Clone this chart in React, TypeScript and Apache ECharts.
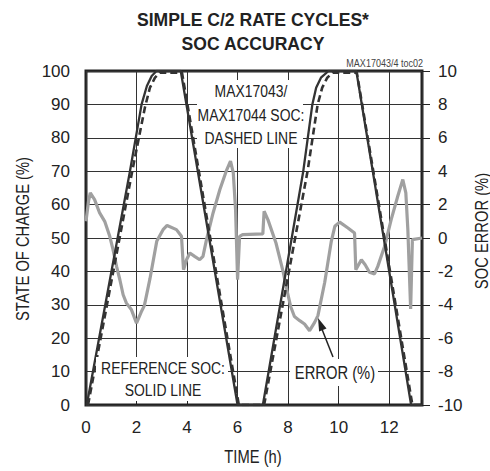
import React, { useEffect, useRef } from "react";
import * as echarts from "echarts";

// ---- data ----
const timeTickLabels = ["0", "2", "4", "6", "8", "10", "12"];

// Reference SOC (%), solid line: [time h, SOC %]
const refSoc: [number, number][] = [
  [0.03, 0], [1.74, 70], [2.2, 90], [2.41, 95.5], [2.6, 98.5], [2.79, 100],
  [3.75, 100], [6.0, 0], [7.0, 0], [8.6, 70], [8.96, 90], [9.11, 95],
  [9.3, 98], [9.6, 100], [10.7, 100], [12.87, 0], [13.3, 0],
];

// MAX17043/MAX17044 SOC (%), dashed line
const maxSoc: [number, number][] = [
  [0.08, 0], [1.83, 70], [2.33, 89], [2.53, 95], [2.73, 98], [2.92, 99.5],
  [3.8, 99.5], [6.05, 0], [7.05, 0], [8.77, 70], [9.17, 90], [9.35, 95],
  [9.55, 98], [9.76, 99.5], [10.72, 99.5], [12.92, 0], [13.3, 0],
];

// SOC error (%), grey line
const socError: [number, number][] = [
  [0.0, 1.0], [0.1, 2.2], [0.17, 2.7], [0.34, 2.3], [0.54, 1.5], [0.74, 1.0],
  [0.94, 0.1], [1.07, -0.7], [1.21, -1.7], [1.34, -2.5], [1.47, -3.4], [1.6, -3.9],
  [1.8, -4.3], [2.0, -5.1], [2.18, -4.45], [2.31, -4.05], [2.53, -2.45], [2.8, -0.2],
  [3.05, 0.5], [3.21, 0.75], [3.58, 0.5], [3.78, 0.1], [3.86, -1.9], [3.98, -1.3],
  [4.11, -0.9], [4.3, -1.1], [4.5, -1.3], [4.63, -1.1], [4.77, -0.1], [5.03, 1.5],
  [5.3, 2.9], [5.55, 4.0], [5.72, 4.6], [5.83, 3.9], [5.92, 1.7], [6.0, -2.5],
  [6.08, 0.1], [6.2, 0.2], [7.0, 0.25], [7.05, 1.6], [7.2, 1.1], [7.52, -0.3],
  [7.8, -2.0], [7.95, -3.1], [8.1, -4.1], [8.25, -4.7], [8.46, -4.95], [8.65, -5.15],
  [8.85, -5.55], [9.05, -5.05], [9.18, -4.65], [9.45, -2.65], [9.71, -0.2], [9.85, 0.7],
  [10.04, 0.95], [10.37, 0.6], [10.63, 0.3], [10.68, -1.9], [10.9, -1.3], [11.05, -1.6],
  [11.22, -2.05], [11.42, -2.15], [11.55, -1.7], [11.82, -0.5], [12.08, 1.1], [12.34, 2.5],
  [12.54, 3.5], [12.66, 2.7], [12.74, 0.5], [12.85, -4.25], [12.92, -0.1], [13.3, 0.0],
];

const FONT = "'Liberation Sans', Arial, sans-serif";
const INK = "#222";
const NARROW_SCALE = 0.82; // emulate the condensed face of the original

export default function App() {
  const ref = useRef<HTMLDivElement>(null);

  useEffect(() => {
    const chart = echarts.init(ref.current!, undefined, { renderer: "svg" });

    const label = (text: string, x: number, y: number, size: number, extra: any = {}) => ({
      type: "text",
      x,
      y,
      z: 110,
      scaleX: NARROW_SCALE,
      ...extra,
      style: {
        text,
        fill: INK,
        fontFamily: FONT,
        fontSize: size,
        align: "center",
        verticalAlign: "middle",
        ...(extra.style || {}),
      },
    });

    chart.setOption({
      animation: false,
      backgroundColor: "#fff",
      grid: {
        left: 86,
        right: 68,
        top: 71,
        bottom: 66,
        show: true,
        borderColor: INK,
        borderWidth: 3,
        backgroundColor: "transparent",
      },
      xAxis: {
        type: "value",
        min: 0,
        max: 13.3,
        interval: 2,
        axisLine: { show: false },
        axisTick: { show: true, inside: true, length: 5, lineStyle: { color: INK } },
        axisLabel: {
          showMaxLabel: false,
          color: INK,
          fontFamily: FONT,
          fontSize: 17,
          margin: 14,
          formatter: (v: number) => {
            const i = Math.round(v / 2);
            return Math.abs(v - i * 2) < 1e-6 && timeTickLabels[i] !== undefined ? timeTickLabels[i] : "";
          },
        },
        splitLine: { show: true, lineStyle: { color: "#333", width: 1 } },
      },
      yAxis: [
        {
          type: "value",
          min: 0,
          max: 100,
          interval: 10,
          axisLine: { show: false },
          axisTick: { show: false },
          axisLabel: { color: INK, fontFamily: FONT, fontSize: 17, margin: 16 },
          splitLine: { show: true, lineStyle: { color: "#333", width: 1 } },
        },
        {
          type: "value",
          min: -10,
          max: 10,
          interval: 2,
          position: "right",
          axisLine: { show: false },
          axisTick: { show: true, inside: false, length: 8, lineStyle: { color: INK } },
          axisLabel: { color: INK, fontFamily: FONT, fontSize: 17, margin: 16 },
          splitLine: { show: false },
        },
      ],
      series: [
        {
          name: "SOC ERROR",
          type: "line",
          yAxisIndex: 1,
          data: socError,
          showSymbol: false,
          symbol: "none",
          lineStyle: { color: "#a0a0a0", width: 3.2 },
          z: 2,
        },
        {
          name: "REFERENCE SOC",
          type: "line",
          yAxisIndex: 0,
          data: refSoc,
          symbol: "none",
          lineStyle: { color: "#333", width: 2.3 },
          z: 3,
        },
        {
          name: "MAX17043/MAX17044 SOC",
          type: "line",
          yAxisIndex: 0,
          data: maxSoc,
          symbol: "none",
          lineStyle: { color: "#333", width: 2.6, type: [7, 4] },
          z: 4,
        },
      ],
      graphic: [
        // title
        {
          type: "text",
          x: 253,
          y: 32,
          z: 110,
          scaleX: 0.95,
          style: {
            text: "SIMPLE C/2 RATE CYCLES*\nSOC ACCURACY",
            fill: INK,
            fontFamily: FONT,
            fontWeight: "bold",
            fontSize: 18.5,
            lineHeight: 24,
            align: "center",
            verticalAlign: "middle",
          },
        },
        // figure code
        label("MAX17043/4 toc02", 423, 63, 11, { style: { align: "right", fill: "#444" } }),
        // axis names
        label("STATE OF CHARGE (%)", 22, 239, 18, { rotation: Math.PI / 2 }),
        label("SOC ERROR (%)", 481, 231, 18, { rotation: Math.PI / 2 }),
        label("TIME (h)", 253, 456, 18),
        // annotation boxes
        { type: "rect", z: 105, shape: { x: 197, y: 80, width: 106, height: 68 }, style: { fill: "#fff" } },
        label("MAX17043/\nMAX17044 SOC:\nDASHED LINE", 251, 114.5, 17, { style: { lineHeight: 23.5 } }),
        { type: "rect", z: 105, shape: { x: 96, y: 357, width: 132, height: 44 }, style: { fill: "#fff" } },
        label("REFERENCE SOC:\nSOLID LINE", 163, 379, 17, { style: { lineHeight: 22 } }),
        { type: "rect", z: 105, shape: { x: 290, y: 359, width: 88, height: 27 }, style: { fill: "#fff" } },
        label("ERROR (%)", 335, 372.5, 18),
        // arrow
        {
          type: "line",
          z: 110,
          shape: { x1: 333, y1: 357, x2: 321.5, y2: 328 },
          style: { stroke: INK, lineWidth: 1.5 },
        },
        {
          type: "polygon",
          z: 110,
          shape: { points: [[318, 318], [319.1, 331.6], [326.5, 328.6]] },
          style: { fill: INK },
        },
      ],
    });

    return () => chart.dispose();
  }, []);

  return (
    <div
      ref={ref}
      style={{ position: "fixed", left: 0, top: 0, width: 490, height: 471, background: "#fff" }}
    />
  );
}
